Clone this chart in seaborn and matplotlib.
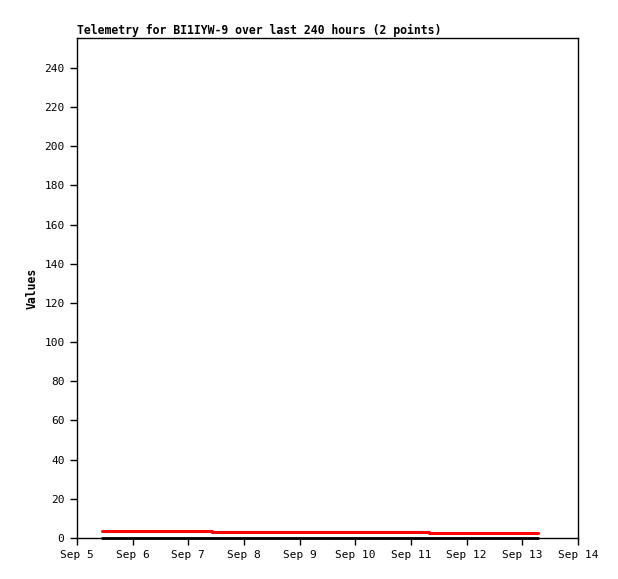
import matplotlib
matplotlib.use("Agg")
import matplotlib.pyplot as plt
import matplotlib.dates as mdates
import pandas as pd
import seaborn as sns

sns.set_style("white")
plt.rcParams['font.family'] = ['DejaVu Sans Mono']
plt.rcParams['text.color'] = 'black'
plt.rcParams['axes.labelcolor'] = 'black'
plt.rcParams['xtick.color'] = 'black'
plt.rcParams['ytick.color'] = 'black'

times = pd.to_datetime(["2023-09-05 10:55", "2023-09-07 10:00", "2023-09-11 07:40", "2023-09-13 06:40"])
red_values = [3.8, 3.1, 2.6, 2.6]
black_values = [0.0, 0.0, 0.0, 0.0]
y_ticks = list(range(0, 241, 20))
x_tick_dates = pd.date_range("2023-09-05", "2023-09-14", freq="D")
title = "Telemetry for BI1IYW-9 over last 240 hours (2 points)"

df = pd.DataFrame({"time": times, "red": red_values, "black": black_values})

fig = plt.figure(figsize=(6.18, 5.79), dpi=100)
ax = fig.add_axes([77/618, 1-538/579, (578-77)/618, (538-38)/579])

sns.lineplot(data=df, x="time", y="black", ax=ax, color="black", linewidth=2.0,
             drawstyle="steps-post", clip_on=False)
sns.lineplot(data=df, x="time", y="red", ax=ax, color="#ff0000", linewidth=2.2,
             drawstyle="steps-post")

ax.set_xlim(x_tick_dates[0], x_tick_dates[-1])
ax.set_ylim(0, 255.3)
ax.set_yticks(y_ticks)
ax.set_xticks(x_tick_dates)
ax.xaxis.set_major_formatter(mdates.DateFormatter("%b %-d"))
ax.tick_params(axis="both", direction="out", length=5, width=1, labelsize=8, color="black",
               labelcolor="black", left=True, bottom=True, pad=4)
for s in ax.spines.values():
    s.set_color("black")
    s.set_linewidth(1)
ax.set_xlabel("")
ax.set_ylabel("Values", fontsize=8.3, fontweight="bold", color="black")
ax.set_title(title, fontsize=8.3, fontweight="bold", loc="left", pad=3, color="black")
ax.grid(False)

fig.savefig("out.png", dpi=100)
